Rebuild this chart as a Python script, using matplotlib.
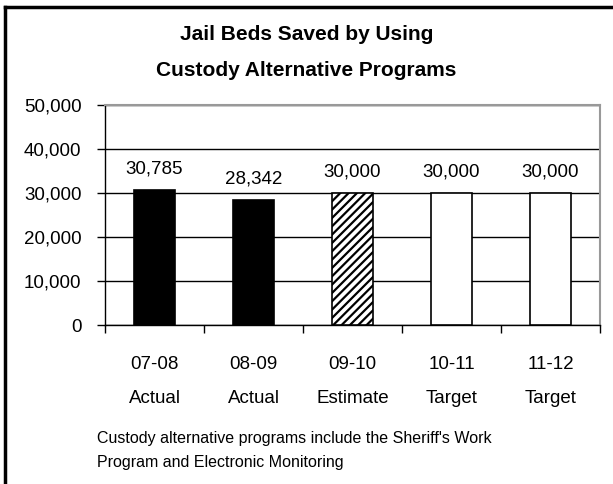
import matplotlib.pyplot as plt
from matplotlib.lines import Line2D

# data
years = ['07-08', '08-09', '09-10', '10-11', '11-12']
kinds = ['Actual', 'Actual', 'Estimate', 'Target', 'Target']
beds = [30785, 28342, 30000, 30000, 30000]
fills = ['black', 'black', 'white', 'white', 'white']
hatches = ['', '', '////', '', '']

plt.rcParams['font.family'] = ['Liberation Sans', 'DejaVu Sans']
plt.rcParams['hatch.linewidth'] = 1.6

fig = plt.figure(figsize=(6.13, 4.84), dpi=100)
ax = fig.add_axes([105 / 613, 1 - 325 / 484, 495 / 613, 220 / 484])

x = list(range(len(years)))
bars = ax.bar(x, beds, width=0.42, color=fills, edgecolor='black', linewidth=1.2, zorder=3)
for b, h in zip(bars, hatches):
    b.set_hatch(h)

for xi, v in zip(x, beds):
    ax.annotate(f'{v:,}', (xi, v), xytext=(0, 9), textcoords='offset points',
                ha='center', va='bottom', fontsize=13.5)

ax.set_xlim(-0.5, len(years) - 0.5)
ax.set_ylim(0, 50000)
ax.set_yticks(range(0, 50001, 10000))
ax.set_yticklabels([f'{t:,}' for t in range(0, 50001, 10000)], fontsize=13.5)
ax.yaxis.grid(True, color='black', linewidth=1, zorder=0)
ax.set_axisbelow(True)

# boundaries as ticks, labels at centers
ax.set_xticks([i - 0.5 for i in range(len(years) + 1)])
ax.set_xticklabels([])
ax.set_xticks(x, minor=True)
ax.set_xticklabels([f'{y}\n{k}' for y, k in zip(years, kinds)], minor=True,
                   fontsize=13.5, linespacing=2.35)
ax.tick_params(axis='x', which='major', length=6, width=1, direction='out')
ax.tick_params(axis='x', which='minor', length=0, pad=22)
ax.tick_params(axis='y', length=6, width=1, pad=11)

for s in ['top', 'right']:
    ax.spines[s].set_color('#999999')
    ax.spines[s].set_linewidth(1.5)
for s in ['left', 'bottom']:
    ax.spines[s].set_color('black')
    ax.spines[s].set_linewidth(1)

fig.text(0.5, 1 - 34 / 484, 'Jail Beds Saved by Using', ha='center', va='center',
         fontsize=15, fontweight='bold')
fig.text(0.5, 1 - 71 / 484, 'Custody Alternative Programs', ha='center', va='center',
         fontsize=15, fontweight='bold')

fig.text(97 / 613, 1 - 438 / 484, "Custody alternative programs include the Sheriff's Work",
         ha='left', va='center', fontsize=11.5)
fig.text(97 / 613, 1 - 462 / 484, 'Program and Electronic Monitoring',
         ha='left', va='center', fontsize=11.5)

# outer frame (top and left edges visible)
fig.add_artist(Line2D([5 / 613, 5 / 613], [0, 1 - 7 / 484], transform=fig.transFigure,
                      color='black', linewidth=2.5))
fig.add_artist(Line2D([5 / 613, 1], [1 - 7 / 484, 1 - 7 / 484], transform=fig.transFigure,
                      color='black', linewidth=2.5))

fig.savefig('out.png', dpi=100)
